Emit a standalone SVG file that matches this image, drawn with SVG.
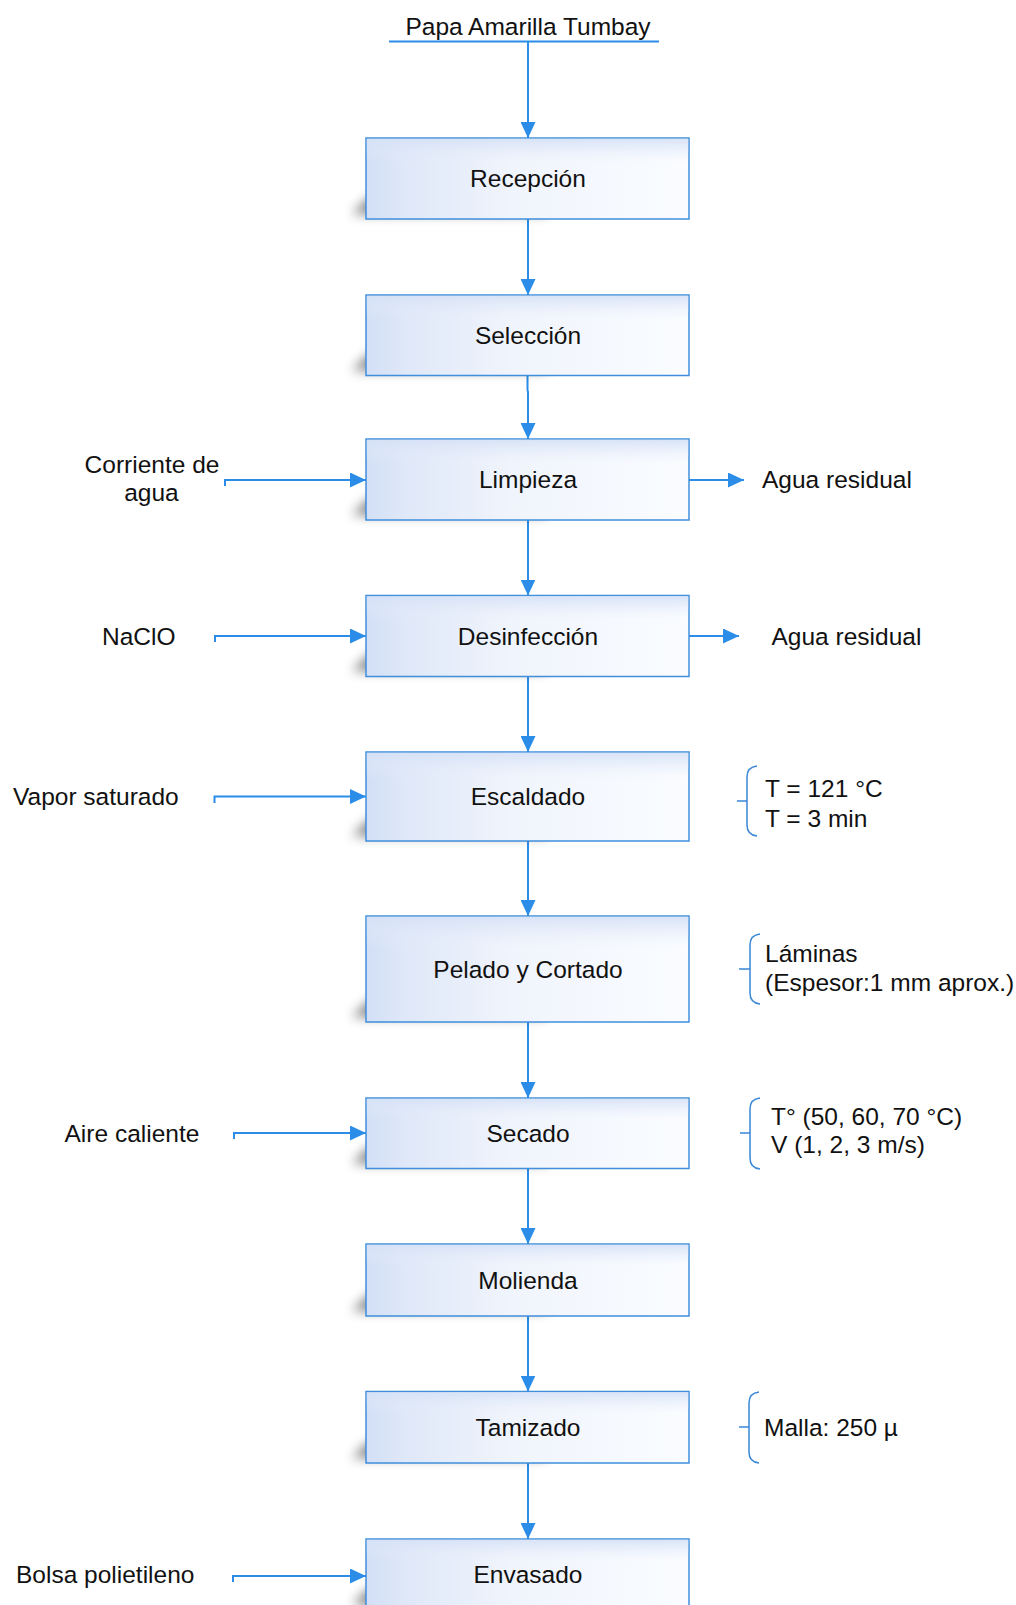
<svg xmlns="http://www.w3.org/2000/svg" width="1016" height="1605" viewBox="0 0 1016 1605">
<defs>
<style>
text{font-family:"Liberation Sans",Arial,sans-serif;font-size:24.5px;fill:#111}
.c{text-anchor:middle}
.box{fill:url(#gH);stroke:#3f8fdc;stroke-width:1.5}
.ov{fill:url(#gV)}
.sh{fill:#000;opacity:.5;filter:url(#blur)}
.conn{fill:none;stroke:#2b8de8;stroke-width:2}
.arr{marker-end:url(#ah)}
.br{fill:none;stroke:#3a87d6;stroke-width:1.5}
</style>
<linearGradient id="gH" x1="0" y1="0" x2="1" y2="0">
<stop offset="0" stop-color="#d2dff6"/>
<stop offset="0.12" stop-color="#dfe8f8"/>
<stop offset="0.45" stop-color="#f0f4fc"/>
<stop offset="1" stop-color="#fafcff"/>
</linearGradient>
<linearGradient id="gV" x1="0" y1="0" x2="0" y2="1">
<stop offset="0" stop-color="#d5e1f6" stop-opacity="0.9"/>
<stop offset="0.3" stop-color="#e8eefb" stop-opacity="0"/>
<stop offset="1" stop-color="#ffffff" stop-opacity="0"/>
</linearGradient>
<filter id="blur" x="-30%" y="-80%" width="160%" height="260%"><feGaussianBlur stdDeviation="6"/></filter>
<marker id="ah" markerUnits="userSpaceOnUse" markerWidth="16" markerHeight="15" refX="16" refY="7.5" orient="auto">
<path d="M0,0 L16,7.5 L0,15 z" fill="#2b8de8"/>
</marker>
</defs>
<rect width="1016" height="1605" fill="#fff"/>

<g id="connectors">
<path class="conn" d="M389,41.5 H659"/>
<path class="conn arr" d="M528,42 V138"/>
<path class="conn arr" d="M528,219 V295"/>
<path class="conn arr" d="M527.5,375.5 V390 L528,392 V439"/>
<path class="conn arr" d="M528,520 V595.5"/>
<path class="conn arr" d="M528,676 V752"/>
<path class="conn arr" d="M528,841 V916"/>
<path class="conn arr" d="M528,1022 V1098"/>
<path class="conn arr" d="M528,1168.5 V1244"/>
<path class="conn arr" d="M528,1316 V1391.5"/>
<path class="conn arr" d="M528,1463 V1539"/>
<path class="conn arr" d="M225,486 V480 H366"/>
<path class="conn arr" d="M689,480 H744"/>
<path class="conn arr" d="M215,642 V636 H366"/>
<path class="conn arr" d="M689,636 H739"/>
<path class="conn arr" d="M214.5,803 V796.5 H366"/>
<path class="conn arr" d="M234,1139 V1133 H366"/>
<path class="conn arr" d="M233,1582 V1576 H366"/>
</g>

<g id="input-papa"><text class="c" x="528" y="35">Papa Amarilla Tumbay</text></g>

<g id="recepcion">
<path class="sh" d="M370,197 H560 L545,214 H352 Z"/>
<rect class="box" x="366" y="138" width="323" height="81"/>
<rect class="ov" x="366.75" y="138.75" width="321.5" height="79.5"/>
<text class="c" x="528" y="187">Recepción</text>
</g>
<g id="seleccion">
<path class="sh" d="M370,353.5 H560 L545,370.5 H352 Z"/>
<rect class="box" x="366" y="295" width="323" height="80.5"/>
<rect class="ov" x="366.75" y="295.75" width="321.5" height="79"/>
<text class="c" x="528" y="343.5">Selección</text>
</g>
<g id="limpieza">
<path class="sh" d="M370,498 H560 L545,515 H352 Z"/>
<rect class="box" x="366" y="439" width="323" height="81"/>
<rect class="ov" x="366.75" y="439.75" width="321.5" height="79.5"/>
<text class="c" x="528" y="488">Limpieza</text>
</g>
<g id="desinfeccion">
<path class="sh" d="M370,654 H560 L545,671 H352 Z"/>
<rect class="box" x="366" y="595.5" width="323" height="81"/>
<rect class="ov" x="366.75" y="596.25" width="321.5" height="79.5"/>
<text class="c" x="528" y="644.5">Desinfección</text>
</g>
<g id="escaldado">
<path class="sh" d="M370,819 H560 L545,836 H352 Z"/>
<rect class="box" x="366" y="752" width="323" height="89"/>
<rect class="ov" x="366.75" y="752.75" width="321.5" height="87.5"/>
<text class="c" x="528" y="805">Escaldado</text>
</g>
<g id="pelado">
<path class="sh" d="M370,1000 H560 L545,1017 H352 Z"/>
<rect class="box" x="366" y="916" width="323" height="106"/>
<rect class="ov" x="366.75" y="916.75" width="321.5" height="104.5"/>
<text class="c" x="528" y="977.5">Pelado y Cortado</text>
</g>
<g id="secado">
<path class="sh" d="M370,1146.5 H560 L545,1163.5 H352 Z"/>
<rect class="box" x="366" y="1098" width="323" height="70.5"/>
<rect class="ov" x="366.75" y="1098.75" width="321.5" height="69"/>
<text class="c" x="528" y="1141.5">Secado</text>
</g>
<g id="molienda">
<path class="sh" d="M370,1294 H560 L545,1311 H352 Z"/>
<rect class="box" x="366" y="1244" width="323" height="72"/>
<rect class="ov" x="366.75" y="1244.75" width="321.5" height="70.5"/>
<text class="c" x="528" y="1288.5">Molienda</text>
</g>
<g id="tamizado">
<path class="sh" d="M370,1441 H560 L545,1458 H352 Z"/>
<rect class="box" x="366" y="1391.5" width="323" height="71.5"/>
<rect class="ov" x="366.75" y="1392.25" width="321.5" height="70"/>
<text class="c" x="528" y="1435.5">Tamizado</text>
</g>
<g id="envasado">
<path class="sh" d="M370,1588 H560 L545,1605 H352 Z"/>
<rect class="box" x="366" y="1539" width="323" height="72"/>
<rect class="ov" x="366.75" y="1539.75" width="321.5" height="70.5"/>
<text class="c" x="528" y="1583">Envasado</text>
</g>

<g id="label-corriente"><text class="c" x="152" y="473">Corriente de</text><text class="c" x="151.5" y="501">agua</text></g>
<g id="label-agua1"><text x="762" y="487.5">Agua residual</text></g>
<g id="label-naclo"><text x="102" y="644.5">NaClO</text></g>
<g id="label-agua2"><text x="771.5" y="644.5">Agua residual</text></g>
<g id="label-vapor"><text x="13" y="805">Vapor saturado</text></g>
<g id="note-escaldado">
<path class="br" d="M757,766 Q747,767 747,777 V825 Q747,835 757,836 M737,801 H747"/>
<text x="765" y="797">T = 121 °C</text>
<text x="765" y="827">T = 3 min</text>
</g>
<g id="note-pelado">
<path class="br" d="M760,934 Q750,935 750,945 V993 Q750,1003 760,1004 M739,969 H750"/>
<text x="765" y="962">Láminas</text>
<text x="765" y="991">(Espesor:1 mm aprox.)</text>
</g>
<g id="label-aire"><text x="64.5" y="1141.5">Aire caliente</text></g>
<g id="note-secado">
<path class="br" d="M760,1098 Q750,1099 750,1109 V1158 Q750,1168 760,1169 M740,1133 H750"/>
<text x="771" y="1125">T° (50, 60, 70 °C)</text>
<text x="771" y="1153">V (1, 2, 3 m/s)</text>
</g>
<g id="note-tamizado">
<path class="br" d="M759,1392 Q749,1393 749,1403 V1452 Q749,1462 759,1463 M739,1427 H749"/>
<text x="764" y="1436">Malla: 250 µ</text>
</g>
<g id="label-bolsa"><text x="16" y="1583">Bolsa polietileno</text></g>
</svg>
